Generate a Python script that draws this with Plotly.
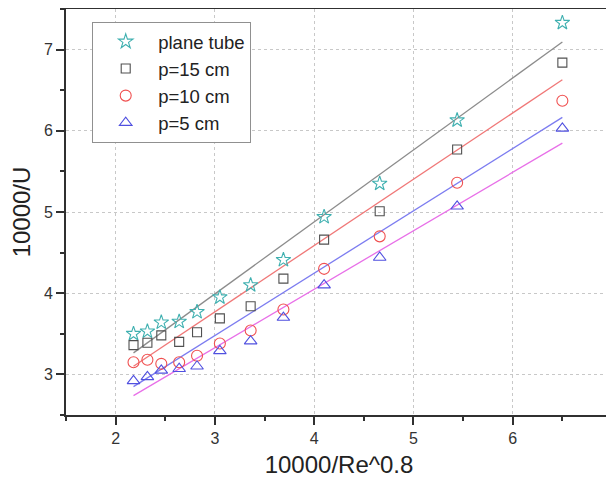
import numpy as np
import plotly.graph_objects as go

x_vals = [2.18, 2.32, 2.46, 2.64, 2.82, 3.05, 3.36, 3.69, 4.10, 4.66, 5.44, 6.50]
plane_tube = [3.50, 3.53, 3.64, 3.65, 3.77, 3.95, 4.10, 4.41, 4.94, 5.35, 6.13, 7.33]
p15 = [3.36, 3.39, 3.48, 3.40, 3.52, 3.69, 3.84, 4.18, 4.66, 5.01, 5.77, 6.84]
p10 = [3.15, 3.18, 3.13, 3.15, 3.23, 3.38, 3.54, 3.80, 4.30, 4.70, 5.36, 6.37]
p5 = [2.92, 2.97, 3.05, 3.07, 3.10, 3.29, 3.41, 3.70, 4.10, 4.44, 5.07, 6.03]

series = [
    ("plane tube", plane_tube, "star-open", 11, "#3fb0b0", "#8c8c8c"),
    ("p=15 cm", p15, "square-open", 9, "#505050", "#f07878"),
    ("p=10 cm", p10, "circle-open", 11, "#f05050", "#7c7cf0"),
    ("p=5 cm", p5, "triangle-up-open", 11, "#5050e0", "#e870e8"),
]

fig = go.Figure()
x = np.array(x_vals)
for name, ys, sym, sz, mcol, lcol in series:
    k, b = np.polyfit(x, np.array(ys), 1)
    xl = np.array([x.min(), x.max()])
    fig.add_trace(go.Scatter(x=xl, y=k * xl + b, mode="lines",
                             line=dict(color=lcol, width=1.3),
                             showlegend=False, hoverinfo="skip"))
for name, ys, sym, sz, mcol, lcol in series:
    fig.add_trace(go.Scatter(x=x_vals, y=ys, mode="markers", name=name,
                             marker=dict(symbol=sym, size=sz, color=mcol,
                                         line=dict(width=1.1, color=mcol))))

axis_common = dict(
    showline=True, linecolor="#303030", linewidth=2, mirror=True,
    ticks="outside", ticklen=8, tickwidth=1.5, tickcolor="#303030",
    showgrid=True, gridcolor="#c8c8c8", griddash="dot", gridwidth=1,
    zeroline=False, tickfont=dict(size=16, color="#333333"),
    automargin=False, ticklabeloverflow="allow",
    minor=dict(ticks="outside", ticklen=4, tickwidth=1.5, tickcolor="#303030", showgrid=False),
)

# the page body adds an 8 px offset, so the figure is sized to fit the window
fig.update_layout(
    width=606, height=473,
    margin=dict(l=58, r=2, t=1, b=66),
    paper_bgcolor="white", plot_bgcolor="white",
    font=dict(family="Liberation Sans, Arial, sans-serif", color="#222222"),
    xaxis=dict(range=[1.5, 7], dtick=1, tick0=0,
               title=dict(text="10000/Re^0.8", font=dict(size=24), standoff=10),
               **axis_common),
    yaxis=dict(range=[2.5, 7.5], dtick=1, tick0=0,
               title=dict(text="10000/U", font=dict(size=24), standoff=16),
               **axis_common),
    legend=dict(x=0.048, y=0.968, xanchor="left", yanchor="top",
                bgcolor="white", bordercolor="#909090", borderwidth=1,
                itemwidth=55,
                font=dict(size=18.5, color="#222222"), tracegroupgap=0),
)
fig.update_xaxes(minor=dict(dtick=0.5))
fig.update_yaxes(minor=dict(dtick=0.5))

fig.write_html("out.html")
